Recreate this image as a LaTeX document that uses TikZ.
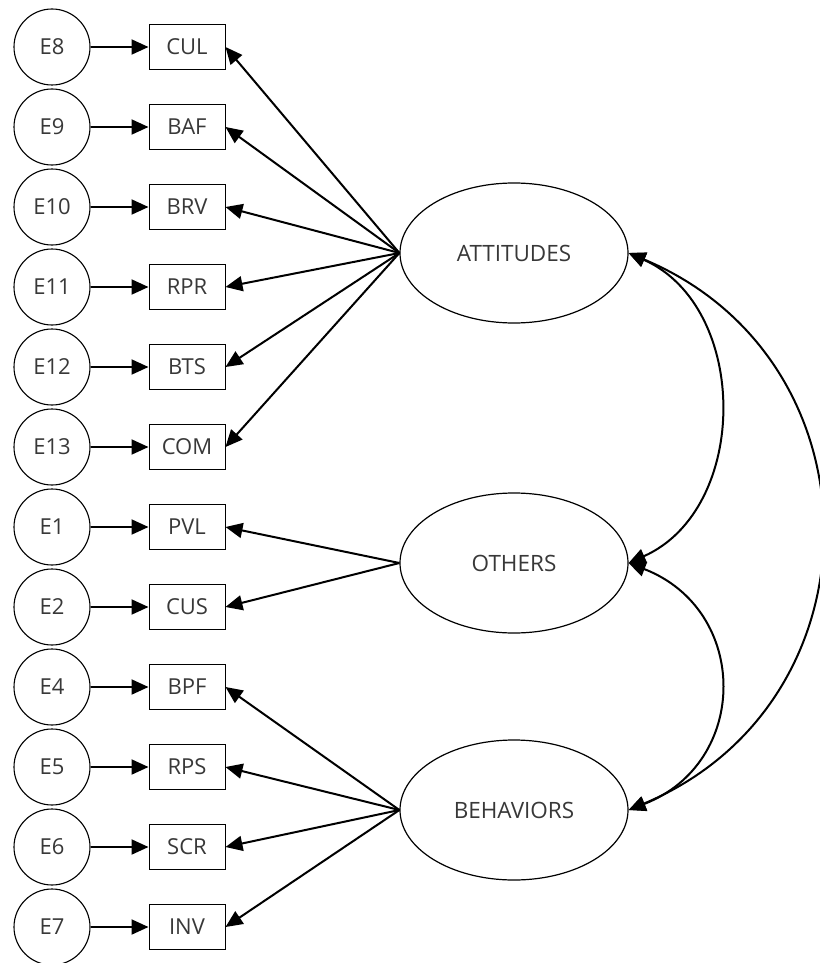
\documentclass[tikz,border=0pt]{standalone}
\usepackage{fontspec}
\setmainfont{Open Sans}
\usetikzlibrary{shapes.geometric,arrows.meta}
\definecolor{txt}{HTML}{383838}
\begin{document}
\begin{tikzpicture}[x=1pt,y=-1pt,
  err/.style={circle,draw,line width=1.1pt,minimum size=76pt,inner sep=0pt,font=\fontsize{22}{22}\selectfont,text=txt},
  obs/.style={rectangle,draw,line width=1pt,minimum width=76pt,minimum height=45pt,inner sep=0pt,font=\fontsize{22}{22}\selectfont,text=txt},
  lat/.style={ellipse,draw,line width=1.2pt,minimum width=228pt,minimum height=140pt,inner sep=0pt,font=\fontsize{22.5}{22.5}\selectfont,text=txt},
  arr/.style={line width=2pt,-{Triangle[length=17pt,width=15pt]}},
  darr/.style={line width=2pt,{Triangle[length=17pt,width=15pt]}-{Triangle[length=17pt,width=15pt]}}]
\useasboundingbox (0,0) rectangle (819,963);
% error circles and indicators
\foreach \e/\b/\t [count=\i from 0] in {E8/CUL/CUL,E9/BAF/BAF,E10/BRV/BRV,E11/RPR/RPR,E12/BTS/BTS,E13/COM/COM,E1/PVL/PVL,E2/CUS/CUS,E4/BPF/BPF,E5/RPS/RPS,E6/SCR/SCR,E7/INV/INV}{
  \node[err] (\e) at (52,{47+80*\i}) {\e};
  \node[obs] (\b) at (187,{47+80*\i}) {\t};
  \draw[arr] (\e) -- (\b);
}
\node[lat] (att) at (514,253) {ATTITUDES};
\node[lat] (oth) at (514,563) {OTHERS};
\node[lat] (beh) at (514,810) {BEHAVIORS};
\foreach \b in {CUL,BAF,BRV,RPR,BTS,COM}{\draw[arr] (att.west) -- (\b.east);}
\foreach \b in {PVL,CUS}{\draw[arr] (oth.west) -- (\b.east);}
\foreach \b in {BPF,RPS,SCR,INV}{\draw[arr] (beh.west) -- (\b.east);}
\draw[darr] (att.east) .. controls (750,307) and (750,509) .. (oth.east);
\draw[darr] (oth.east) .. controls (750,610) and (750,763) .. (beh.east);
\draw[darr] (att.east) .. controls (884,360) and (884,703) .. (beh.east);
\end{tikzpicture}
\end{document}
